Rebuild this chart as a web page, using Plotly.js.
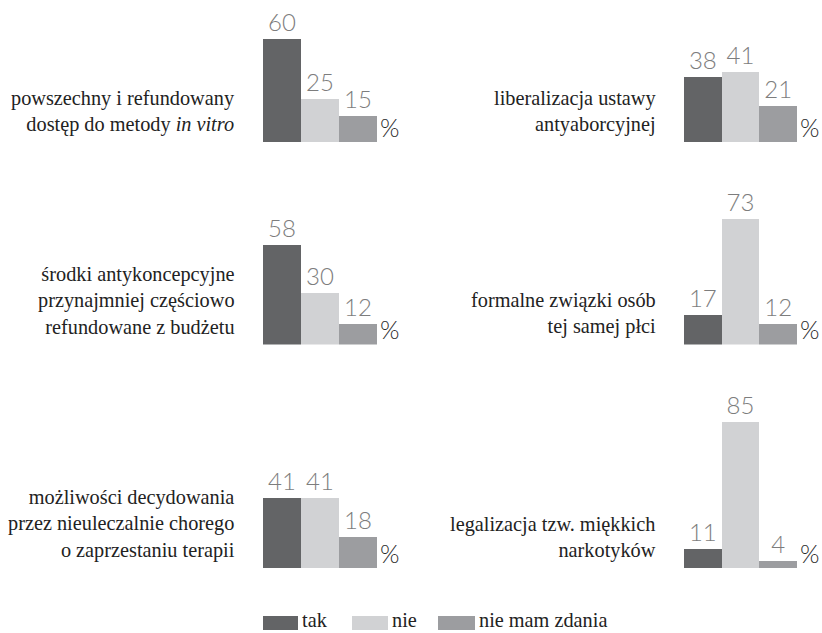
<!DOCTYPE html>
<html>
<head>
<meta charset="utf-8">
<script src="https://cdn.plot.ly/plotly-3.0.1.min.js"></script>
<style>html,body{margin:0;padding:0;background:#fff}#chart{width:822px;height:633px}</style>
</head>
<body>
<div id="chart"></div>
<script>
// ---- data ----
const topics = [
  "powszechny i refundowany<br>dostęp do metody <i>in vitro</i>",
  "liberalizacja ustawy<br>antyaborcyjnej",
  "środki antykoncepcyjne<br>przynajmniej częściowo<br>refundowane z budżetu",
  "formalne związki osób<br>tej samej płci",
  "możliwości decydowania<br>przez nieuleczalnie chorego<br>o zaprzestaniu terapii",
  "legalizacja tzw. miękkich<br>narkotyków"
];
const seriesNames = ["tak", "nie", "nie mam zdania"];
const tak = [60, 38, 58, 17, 41, 11];
const nie = [25, 41, 30, 73, 41, 85];
const nmz = [15, 21, 12, 12, 18, 4];
const unitLabel = "%";

// ---- styles ----
const colors = ["#636466", "#d1d2d4", "#9c9da0"];
const W = 822, H = 633;
const serif = "Liberation Serif";
const numFont = {family: "Lato", size: 24, color: "#7d7d7d", weight: 300};
const pct = {family: "Lato", size: 25, color: "#2b2b2b", weight: 300};

const scale = 1.717; // px per unit
const colDom = [[263 / W, 377 / W], [684 / W, 797 / W]];
const rows = [{base: 142, max: 80}, {base: 344.5, max: 100}, {base: 568, max: 100}];

const data = [];
const layout = {
  width: W, height: H,
  margin: {l: 0, r: 0, t: 0, b: 0},
  paper_bgcolor: "#fff", plot_bgcolor: "rgba(0,0,0,0)",
  showlegend: false, bargap: 0,
  annotations: [], shapes: []
};

topics.forEach((t, i) => {
  const n = i + 1, row = rows[Math.floor(i / 2)], col = i % 2;
  const vals = [tak[i], nie[i], nmz[i]];
  data.push({
    type: "bar", x: seriesNames, y: vals,
    marker: {color: colors, line: {width: 0}},
    text: vals.map(String), textposition: "outside", cliponaxis: false,
    constraintext: "none", textfont: numFont,
    xaxis: "x" + n, yaxis: "y" + n, hoverinfo: "skip"
  });
  const topPx = row.base - row.max * scale;
  layout["xaxis" + (n === 1 ? "" : n)] = {
    domain: colDom[col], anchor: "y" + n, visible: false,
    type: "category", range: [-0.5, 2.5], fixedrange: true
  };
  layout["yaxis" + (n === 1 ? "" : n)] = {
    domain: [1 - row.base / H, 1 - topPx / H], anchor: "x" + n, visible: false,
    range: [0, row.max], fixedrange: true
  };
  layout.annotations.push({
    xref: "x" + n + " domain", yref: "y" + n, x: 0, y: 0,
    xanchor: "right", yanchor: "bottom", xshift: -26, yshift: 4,
    align: "right", showarrow: false, text: t,
    font: {family: serif, size: 20.3, color: "#222"}
  });
  layout.annotations.push({
    xref: "x" + n + " domain", yref: "y" + n, x: 1, y: 0,
    xanchor: "left", yanchor: "bottom", xshift: 1, yshift: -2,
    showarrow: false, text: unitLabel, font: pct
  });
});

// legend
const sw = [[263, 298], [352, 388], [438, 475]];
seriesNames.forEach((s, k) => {
  layout.shapes.push({
    type: "rect", xref: "paper", yref: "paper",
    x0: sw[k][0] / W, x1: sw[k][1] / W, y0: 1 - 630 / H, y1: 1 - 616 / H,
    fillcolor: colors[k], line: {width: 0}
  });
  layout.annotations.push({
    xref: "paper", yref: "paper", x: (sw[k][1] + 2) / W, y: 0,
    xanchor: "left", yanchor: "bottom", showarrow: false, text: s,
    font: {family: serif, size: 20.3, color: "#222"}
  });
});

Plotly.newPlot("chart", data, layout, {displayModeBar: false, staticPlot: true});
</script>
</body>
</html>
